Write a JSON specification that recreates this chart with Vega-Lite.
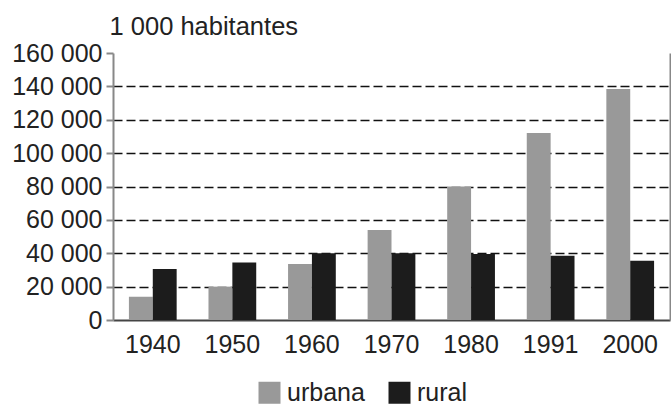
{
  "$schema": "https://vega.github.io/schema/vega-lite/v6.json",
  "autosize": "none",
  "width": 557,
  "height": 267,
  "padding": {"left": 113, "top": 53, "right": 1, "bottom": 85},
  "background": "white",
  "config": {"view": {"stroke": null}, "font": "Liberation Sans"},
  "data": {
    "values": [
      {"year": "1940", "zona": "urbana", "pop": 14000},
      {"year": "1940", "zona": "rural", "pop": 30500},
      {"year": "1950", "zona": "urbana", "pop": 20000},
      {"year": "1950", "zona": "rural", "pop": 34500},
      {"year": "1960", "zona": "urbana", "pop": 33500},
      {"year": "1960", "zona": "rural", "pop": 40000},
      {"year": "1970", "zona": "urbana", "pop": 54000},
      {"year": "1970", "zona": "rural", "pop": 40000},
      {"year": "1980", "zona": "urbana", "pop": 80000},
      {"year": "1980", "zona": "rural", "pop": 39500},
      {"year": "1991", "zona": "urbana", "pop": 112000},
      {"year": "1991", "zona": "rural", "pop": 38500},
      {"year": "2000", "zona": "urbana", "pop": 138500},
      {"year": "2000", "zona": "rural", "pop": 35500}
    ]
  },
  "encoding": {
    "x": {
      "field": "year", "type": "nominal", "title": null,
      "scale": {"paddingInner": 0.4, "paddingOuter": 0.2},
      "axis": {"labelAngle": 0, "labelFontSize": 25, "labelColor": "#222", "ticks": false, "domain": true, "domainColor": "#444", "domainWidth": 2, "labelPadding": 12, "grid": false}
    },
    "xOffset": {"field": "zona", "type": "nominal", "scale": {"domain": ["urbana", "rural"]}}
  },
  "layer": [
    {
      "mark": {"type": "bar"},
      "encoding": {
        "y": {
          "field": "pop", "type": "quantitative",
          "scale": {"domain": [0, 160000], "nice": false},
          "axis": {
            "values": [0, 20000, 40000, 60000, 80000, 100000, 120000, 140000, 160000],
            "labelExpr": "replace(format(datum.value, ','), ',', ' ')",
            "labelFontSize": 25, "labelColor": "#222", "labelPadding": 4,
            "tickSize": 7, "tickColor": "#888", "tickWidth": 2,
            "domainColor": "#888", "domainWidth": 2,
            "grid": true, "gridColor": "#111", "gridDash": [9, 4], "gridWidth": 1.5,
            "gridOpacity": {"condition": {"test": "datum.value >= 160000 || datum.value == 0", "value": 0}, "value": 1},
            "title": "1 000 habitantes", "titleAngle": 0, "titleAlign": "left", "titleBaseline": "alphabetic",
            "titleX": -4, "titleY": -19, "titleFontSize": 25.5, "titleFontWeight": "normal", "titleColor": "#222"
          }
        },
        "color": {
          "field": "zona", "type": "nominal",
          "scale": {"domain": ["urbana", "rural"], "range": ["#999999", "#1c1c1c"]},
          "legend": {
            "orient": "none", "legendX": 144, "legendY": 327, "direction": "horizontal",
            "title": null, "symbolType": "square", "symbolSize": 484, "symbolStrokeWidth": 0,
            "labelFontSize": 25, "labelColor": "#222", "columnPadding": 22, "labelOffset": 5
          }
        }
      }
    },
    {
      "mark": {"type": "bar", "opacity": 0},
      "encoding": {
        "y": {
          "field": "pop", "type": "quantitative",
          "scale": {"domain": [0, 160000], "nice": false},
          "axis": {"orient": "right", "labels": false, "ticks": false, "grid": false, "domain": true, "domainColor": "#888", "domainWidth": 2, "title": null}
        }
      }
    }
  ],
  "resolve": {"axis": {"y": "independent"}}
}
